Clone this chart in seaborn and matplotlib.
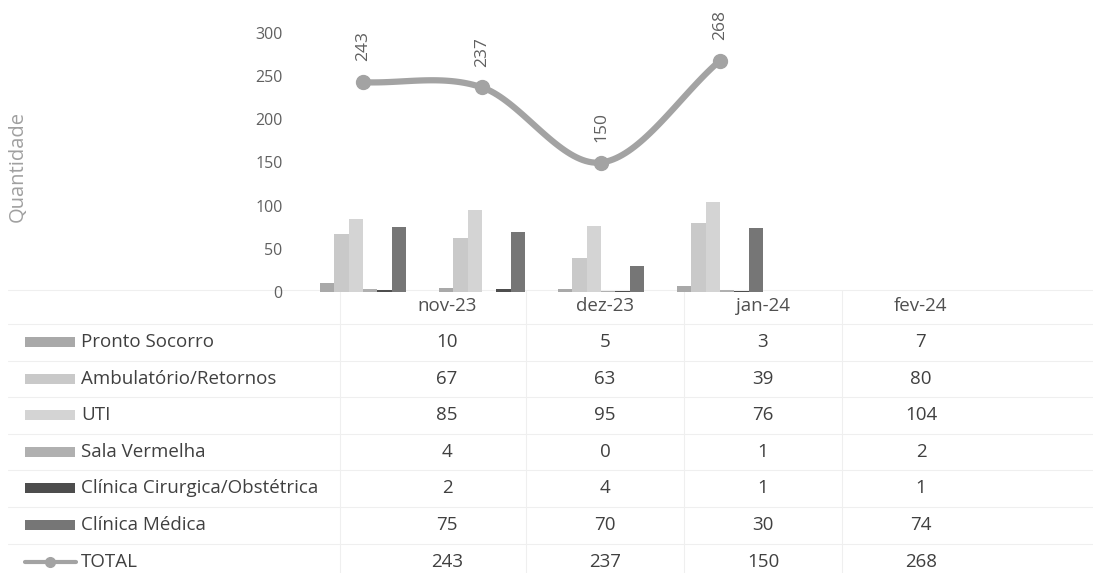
import numpy as np
import pandas as pd
import seaborn as sns
import matplotlib.pyplot as plt
from matplotlib.patches import Rectangle
from matplotlib.lines import Line2D

# %%

meses = ["nov-23", "dez-23", "jan-24", "fev-24"]
series = ["Pronto Socorro", "Ambulatório/Retornos", "UTI", "Sala Vermelha",
          "Clínica Cirurgica/Obstétrica", "Clínica Médica"]
pronto_socorro = [10, 5, 3, 7]
ambulatorio = [67, 63, 39, 80]
uti = [85, 95, 76, 104]
sala_vermelha = [4, 0, 1, 2]
clinica_cirurgica = [2, 4, 1, 1]
clinica_medica = [75, 70, 30, 74]
total = [243, 237, 150, 268]

cores = ["#a9a9a9", "#c9c9c9", "#d4d4d4", "#b0b0b0", "#4d4d4d", "#767676"]
cor_total = "#a3a3a3"

# %%

valores = [pronto_socorro, ambulatorio, uti, sala_vermelha, clinica_cirurgica, clinica_medica]
df = pd.DataFrame({
    "mes": [m for _ in series for m in meses],
    "serie": [s for s in series for _ in meses],
    "valor": [v for vals in valores for v in vals],
})

sns.set_style("white")
plt.rcParams["font.family"] = ["Open Sans", "DejaVu Sans"]

W, H = 1093, 573
fig = plt.figure(figsize=(W / 100, H / 100), dpi=100)

# table / legend layer in pixel coordinates
tab = fig.add_axes([0, 0, 1, 1])
tab.set_xlim(0, W)
tab.set_ylim(H, 0)
tab.axis("off")

ax = fig.add_axes([303.5 / W, (H - 292) / H, 476 / W, 259 / H])
sns.barplot(data=df, x="mes", y="valor", hue="serie", hue_order=series,
            palette=cores, width=0.72, gap=0, legend=False, ax=ax,
            saturation=1, linewidth=0)

# smoothed total line (Catmull-Rom through the data points)
xs = np.arange(len(total), dtype=float)
ys = np.array(total, dtype=float)
px = np.concatenate([[2 * xs[0] - xs[1]], xs, [2 * xs[-1] - xs[-2]]])
py = np.concatenate([[2 * ys[0] - ys[1]], ys, [2 * ys[-1] - ys[-2]]])
cx, cy = [], []
t = np.linspace(0, 1, 40)
for i in range(1, len(px) - 2):
    for p, out in ((px, cx), (py, cy)):
        p0, p1, p2, p3 = p[i - 1], p[i], p[i + 1], p[i + 2]
        out.extend(0.5 * (2 * p1 + (-p0 + p2) * t + (2 * p0 - 5 * p1 + 4 * p2 - p3) * t ** 2
                          + (-p0 + 3 * p1 - 3 * p2 + p3) * t ** 3))
ax.plot(cx, cy, color=cor_total, lw=4.5, solid_capstyle="round", zorder=3)
ax.plot(xs, ys, "o", color=cor_total, ms=10, zorder=4)
for i, v in enumerate(total):
    ax.annotate(str(v), (i, v), xytext=(0, 15), textcoords="offset points",
                rotation=90, ha="center", va="bottom", fontsize=12.5,
                color="#606060", annotation_clip=False)

ax.set_ylim(0, 300)
ax.set_xlim(-0.5, 3.5)
ax.set_yticks(range(0, 301, 50))
ax.tick_params(axis="y", colors="#606060", labelsize=11.5, length=0, pad=15)
ax.set_xticks([])
ax.set_xlabel("")
ax.set_ylabel("")
sns.despine(ax=ax, left=True, bottom=True)
ax.patch.set_alpha(0)

fig.text(18 / W, 1 - 167 / H, "Quantidade", rotation=90, ha="center", va="center",
         fontsize=14.5, color="#a0a0a0")

# data table below the chart
col_x = [447 + 158 * i for i in range(len(meses))]
row_y = [342 + 36.6 * i for i in range(len(series) + 1)]
grid = "#efefef"
for y in [290] + [r - 18 for r in row_y] + [row_y[-1] + 18]:
    tab.plot([8, W], [y, y], color=grid, lw=0.8)
for xv in [340] + [c + 79 for c in col_x[:-1]]:
    tab.plot([xv, xv], [290, row_y[-1] + 18], color=grid, lw=0.8)

for c, m in zip(col_x, meses):
    tab.text(c, 306, m, ha="center", va="center", fontsize=13.5, color="#505050")

linhas = valores + [total]
nomes = series + ["TOTAL"]
for r, (nome, vals) in enumerate(zip(nomes, linhas)):
    y = row_y[r]
    if r < len(series):
        tab.add_patch(Rectangle((25, y - 5), 50, 10, color=cores[r], lw=0))
    else:
        tab.add_line(Line2D([25, 76], [y, y], color=cor_total, lw=3))
        tab.plot([50], [y], "o", color=cor_total, ms=7)
    tab.text(81, y, nome, ha="left", va="center", fontsize=13.5, color="#404040")
    for c, v in zip(col_x, vals):
        tab.text(c, y, str(v), ha="center", va="center", fontsize=13.5, color="#404040")

fig.savefig("out.png", dpi=100)
